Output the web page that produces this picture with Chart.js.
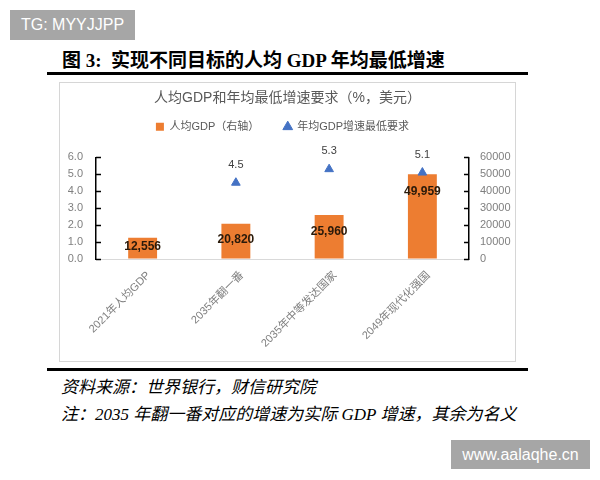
<!DOCTYPE html>
<html>
<head>
<meta charset="utf-8">
<script src="https://cdn.jsdelivr.net/npm/chart.js@4/dist/chart.umd.min.js"></script>
<style>
  html, body { margin: 0; padding: 0; background: #fff; }
  body { width: 600px; height: 480px; position: relative; overflow: hidden; }
  .wm { position: absolute; background: #a6a6a6; color: #fff; font-family: "Liberation Sans", Arial, sans-serif; font-size: 16px; display: flex; align-items: center; justify-content: center; }
  #title { position: absolute; left: 62px; top: 49px; font-family: "Liberation Serif", "Noto Sans CJK SC", serif; font-weight: bold; font-size: 19px; color: #000; white-space: nowrap; line-height: 24px; }
  .rule { position: absolute; left: 47px; width: 481px; height: 3px; background: #000; }
  #box { position: absolute; left: 59px; top: 82px; width: 455px; height: 278px; border: 1px solid #d6d6d6; }
  #wrap { position: absolute; left: 0; top: 0; width: 455px; height: 278px; }
  .note { position: absolute; left: 61px; font-family: "Liberation Serif", "Noto Sans CJK SC", serif; font-style: italic; font-size: 17px; color: #000; white-space: nowrap; line-height: 22px; }
</style>
</head>
<body>
<div class="wm" style="left:10px;top:10px;width:125px;height:30px;">TG: MYYJJPP</div>
<div id="title">图 3:&nbsp; 实现不同目标的人均 GDP 年均最低增速</div>
<div class="rule" style="top:72px;"></div>
<div id="box"><div id="wrap"><canvas id="c"></canvas></div></div>
<div class="rule" style="top:368px;"></div>
<div class="note" style="top:377px;">资料来源：世界银行，财信研究院</div>
<div class="note" style="top:404px;">注：2035 年翻一番对应的增速为实际 GDP 增速，其余为名义</div>
<div class="wm" style="left:451px;top:440px;width:139px;height:29px;">www.aalaqhe.cn</div>
<script>
const categories = ["2021年人均GDP", "2035年翻一番", "2035年中等发达国家", "2049年现代化强国"];
const gdpPerCapita = [12556, 20820, 25960, 49959];
const minGrowth = [null, 4.5, 5.3, 5.1];
const leftTicks = [0, 1, 2, 3, 4, 5, 6];
const rightTicks = [0, 10000, 20000, 30000, 40000, 50000, 60000];
const chartTitle = "人均GDP和年均最低增速要求（%，美元）";
const seriesNames = ["人均GDP（右轴）", "年均GDP增速最低要求"];

const FONT = '"Liberation Sans", "Noto Sans CJK SC", sans-serif';
const GRAY = '#7f7f7f';

const labelPlugin = {
  id: 'valueLabels',
  afterDatasetsDraw(chart) {
    const ctx = chart.ctx;
    ctx.save();
    ctx.textAlign = 'center';
    ctx.textBaseline = 'middle';
    const barMeta = chart.getDatasetMeta(0);
    const base = chart.scales.y1.getPixelForValue(0);
    ctx.font = 'bold 12px ' + FONT;
    ctx.fillStyle = '#2a1a0a';
    barMeta.data.forEach((el, i) => {
      const v = gdpPerCapita[i];
      const top = el.y;
      const y = Math.min(top + 17, (top + base) / 2 - 2);
      ctx.fillText(v.toLocaleString('en-US'), el.x, y);
    });
    const ptMeta = chart.getDatasetMeta(1);
    ctx.font = '11px ' + FONT;
    ctx.fillStyle = '#404040';
    ptMeta.data.forEach((el, i) => {
      const v = minGrowth[i];
      if (v === null || v === undefined) return;
      ctx.fillText(v.toFixed(1), el.x, el.y - 18);
    });
    ctx.restore();
  }
};

const tickPlugin = {
  id: 'innerTicks',
  beforeLayout(chart) {
    const lg = chart.legend;
    if (lg && !lg._extraPatched) {
      const orig = lg.fit.bind(lg);
      lg.fit = function () {
        orig();
        if (this.options.display) {
          this.height += 15;
          if (this.lineWidths && this.lineWidths.length) {
            this.lineWidths = this.lineWidths.map(w => w + 10);
          }
        }
      };
      lg._extraPatched = true;
    }
  },
  afterDraw(chart) {
    const ctx = chart.ctx;
    ctx.save();
    ctx.strokeStyle = '#000';
    ctx.lineWidth = 1.5;
    const yl = chart.scales.y, yr = chart.scales.y1;
    const lx = chart.chartArea.left, rx = chart.chartArea.right;
    yl.ticks.forEach((t, i) => {
      const p = Math.round(yl.getPixelForTick(i)) + 0.5;
      ctx.beginPath(); ctx.moveTo(lx, p); ctx.lineTo(lx + 5, p); ctx.stroke();
    });
    yr.ticks.forEach((t, i) => {
      const p = Math.round(yr.getPixelForTick(i)) + 0.5;
      ctx.beginPath(); ctx.moveTo(rx, p); ctx.lineTo(rx - 5, p); ctx.stroke();
    });
    ctx.restore();
  }
};

new Chart(document.getElementById('c'), {
  data: {
    labels: categories,
    datasets: [
      {
        type: 'bar',
        label: seriesNames[0],
        data: gdpPerCapita,
        yAxisID: 'y1',
        backgroundColor: '#ED7D31',
        borderWidth: 0,
        barPercentage: 0.31,
        categoryPercentage: 1.0,
        pointStyle: 'rect',
        order: 2
      },
      {
        type: 'line',
        label: seriesNames[1],
        data: minGrowth,
        yAxisID: 'y',
        showLine: false,
        pointStyle: 'triangle',
        pointRadius: 5,
        pointBackgroundColor: '#4472C4',
        pointBorderColor: '#4472C4',
        backgroundColor: '#4472C4',
        borderColor: '#4472C4',
        order: 1
      }
    ]
  },
  options: {
    responsive: true,
    maintainAspectRatio: false,
    devicePixelRatio: 1,
    animation: false,
    layout: { padding: 0 },
    plugins: {
      title: {
        display: true,
        text: chartTitle,
        color: '#595959',
        font: { family: FONT, size: 14, weight: 'normal' },
        padding: { top: 7, bottom: 1 }
      },
      legend: {
        display: true,
        position: 'top',
        labels: {
          usePointStyle: true,
          boxWidth: 8,
          boxHeight: 8,
          padding: 13.5,
          color: '#595959',
          font: { family: FONT, size: 11 },
          sort: (a, b) => a.datasetIndex - b.datasetIndex,
          generateLabels(chart) {
            const items = Chart.defaults.plugins.legend.labels.generateLabels(chart);
            items.forEach(it => { if (it.datasetIndex === 0) it.text = it.text + '\u2003'; });
            return items;
          }
        }
      },
      tooltip: { enabled: false }
    },
    scales: {
      x: {
        grid: { display: true, drawOnChartArea: false, drawTicks: false },
        border: { display: true, color: '#d9d9d9', width: 1 },
        ticks: {
          color: GRAY,
          font: { family: FONT, size: 11 },
          minRotation: 45,
          maxRotation: 45,
          padding: 10,
          labelOffset: 6
        },
        afterFit(s) { s.height = 102; }
      },
      y: {
        position: 'left',
        min: 0, max: 6,
        afterBuildTicks(s) { s.ticks = leftTicks.map(v => ({ value: v })); },
        grid: { display: true, drawOnChartArea: false, drawTicks: false },
        border: { display: true, color: '#000', width: 1.5 },
        ticks: {
          color: GRAY,
          font: { family: FONT, size: 11 },
          padding: 13,
          callback: v => Number(v).toFixed(1)
        },
        afterFit(s) { s.width = 36; }
      },
      y1: {
        position: 'right',
        min: 0, max: 60000,
        afterBuildTicks(s) { s.ticks = rightTicks.map(v => ({ value: v })); },
        grid: { display: true, drawOnChartArea: false, drawTicks: false },
        border: { display: true, color: '#000', width: 1.5 },
        ticks: {
          color: GRAY,
          font: { family: FONT, size: 11 },
          padding: 11,
          callback: v => String(v)
        },
        afterFit(s) { s.width = 46; }
      }
    }
  },
  plugins: [labelPlugin, tickPlugin]
});
</script>
</body>
</html>
